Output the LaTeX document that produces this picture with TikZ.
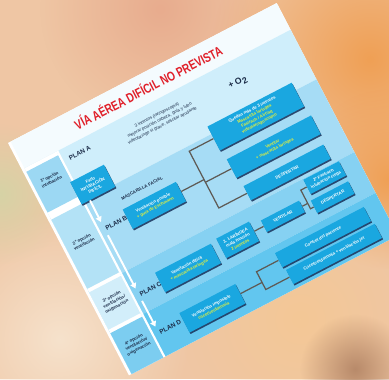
\documentclass[tikz,border=0pt]{standalone}
\usepackage{fontspec}
\setmainfont{Liberation Sans}
\usetikzlibrary{fadings,shadows,arrows.meta,calc}

% fondo de la foto
\definecolor{fondo}{HTML}{EFC6A4}
\definecolor{naranja}{HTML}{F0A055}
\definecolor{rosado}{HTML}{E8AC8E}
\definecolor{crema}{HTML}{F6E2CC}
\definecolor{verdoso}{HTML}{D6D3A6}
\definecolor{melocoton}{HTML}{F4C896}
\definecolor{marron}{HTML}{B88A6A}
% cartel
\definecolor{bandaT}{HTML}{F4FBFE}
\definecolor{bandaA}{HTML}{CFEEFB}
\definecolor{bandaB}{HTML}{A6DCF5}
\definecolor{bandaC}{HTML}{86D1F2}
\definecolor{bandaD}{HTML}{62C6EF}
\definecolor{colA}{HTML}{9CD8F3}
\definecolor{colB}{HTML}{B3E2F6}
\definecolor{colC}{HTML}{D2EEFA}
\definecolor{colD}{HTML}{7CCDF0}
\definecolor{azulcaja}{HTML}{1AA7E0}
\definecolor{sombra}{HTML}{1E3A62}
\definecolor{amarillo}{HTML}{E6F03C}
\definecolor{rojo}{HTML}{E0202A}
\definecolor{tinta}{HTML}{1C2C48}
\definecolor{gris}{HTML}{5E5A55}

\tikzfading[name=mancha, inner color=transparent!0, outer color=transparent!100]

\begin{document}
\begin{tikzpicture}[x=0.02cm,y=0.02cm,
    caja/.style = {fill=azulcaja, text=white, align=center, inner sep=0pt,
                   font=\fontsize{2.4}{3}\selectfont\bfseries, transform shape,
                   drop shadow={shadow xshift=0.6pt, shadow yshift=-0.8pt,
                                fill=sombra, opacity=0.9}},
    rotulo/.style = {text=tinta, align=center, inner sep=0pt,
                     font=\fontsize{2.5}{3.1}\selectfont\bfseries, transform shape},
    plan/.style = {text=tinta, inner sep=0pt, anchor=west,
                   font=\fontsize{3.6}{4}\selectfont\bfseries, transform shape},
    conector/.style = {draw=gris, line width=0.7pt},
    flecha/.style = {draw=white, line width=1.1pt,
                     -{Triangle[length=3pt,width=3.5pt]}}]
    \useasboundingbox (0,0) rectangle (389,379);
    % Fondo borroso
    \begin{scope}
        \clip (0,0) rectangle (389,379);
        \fill[fondo] (0,0) rectangle (389,379);
        \fill[crema, path fading=mancha] (60,40) circle (130);
        \fill[verdoso, path fading=mancha] (0,185) circle (70);
        \fill[rosado, path fading=mancha] (160,370) circle (120);
        \fill[naranja, path fading=mancha] (370,320) circle (160);
        \fill[naranja, path fading=mancha] (389,200) circle (90);
        \fill[melocoton, path fading=mancha] (300,60) circle (120);
        \fill[marron, path fading=mancha] (355,10) circle (55);
    \end{scope}
    % Cartel girado
    \begin{scope}[shift={(8,236)}, rotate=27.5]
        % bandas
        \fill[white] (0,0) rectangle (303,-262);
        \fill[bandaT] (3,0) rectangle (303,-30);
        \fill[bandaA] (3,-30) rectangle (303,-86);
        \fill[bandaB] (3,-86) rectangle (303,-168);
        \fill[bandaC] (3,-168) rectangle (303,-214);
        \fill[bandaD] (3,-214) rectangle (303,-262);
        % columna izquierda
        \fill[white] (3,-30) rectangle (39,-262);
        \fill[colA] (3,-34) rectangle (39,-80);
        \fill[colB] (3,-88) rectangle (39,-166);
        \fill[colC] (3,-170) rectangle (39,-212);
        \fill[colD] (3,-216) rectangle (39,-262);
        \draw[white, line width=1.2pt] (40,-30) -- (40,-262);
        % Titulo
        \node[text=rojo, font=\fontsize{7.5}{8}\selectfont\bfseries, xscale=0.77,
              transform shape] (titulo) at (150,-15) {VÍA AÉREA DIFÍCIL NO PREVISTA};
        % Plan A
        \node[rotulo, font=\fontsize{2.5}{3.4}\selectfont] (intentos) at (145,-50)
            {3 intentos (laringoscopia)\\mejorar posición cabeza, guía y tubo\\videolaringo si grave, solicitar ayudante};
        \node[rotulo, font=\fontsize{5}{6}\selectfont\bfseries] (oxigeno) at (232,-53) {+ O\textsubscript{2}};
        % Columna de opciones
        \node[rotulo] (op1) at (21,-52) {1ª opción\\intubación};
        \node[rotulo] (op2) at (21,-122) {2ª opción\\ventilación};
        \node[rotulo] (op3) at (21,-190) {3ª opción\\ventilación/\\oxigenación};
        \node[rotulo] (op4) at (21,-238) {4ª opción\\ventilación/\\oxigenación};
        % Planes
        \node[plan] (planA) at (47,-42) {PLAN A};
        \node[plan] (planB) at (47,-121) {PLAN B};
        \node[plan] (planC) at (47,-195) {PLAN C};
        \node[plan] (planD) at (47,-238) {PLAN D};
        % Cajas
        \node[caja, minimum width=0.76cm, minimum height=0.5cm] (fallo) at (56,-76)
            {Fallo\\INTUBACIÓN\\DIFÍCIL};
        \node[rotulo] (mascarilla) at (98,-102) {MASCARILLA FACIAL};
        \node[caja, minimum width=1.2cm, minimum height=0.44cm] (posible) at (101,-123)
            {Ventilación posible\\\textcolor{amarillo}{+ guía de Eschmann}};
        \node[caja, minimum width=1.9cm, minimum height=0.54cm] (quedan) at (232,-91)
            {Quedan más de 3 intentos\\\textcolor{amarillo}{Mascarilla laríngea}\\\textcolor{amarillo}{Fastrach / Airtraq}\\\textcolor{amarillo}{videolaringoscopio}};
        \node[caja, minimum width=1.9cm, minimum height=0.42cm] (ventila) at (234,-126)
            {\textcolor{amarillo}{Ventilar}\\\textcolor{amarillo}{+ mascarilla laríngea}};
        \node[caja, minimum width=1.8cm, minimum height=0.32cm] (despierta) at (234,-155)
            {DESPERTAR};
        \node[caja, minimum width=1.26cm, minimum height=0.44cm] (dificil) at (102,-194)
            {Ventilación difícil\\\textcolor{amarillo}{+ mascarilla laríngea}};
        \node[caja, minimum width=0.74cm, minimum height=0.44cm] (laringea) at (159,-192)
            {3. LARÍNGEA\\mala función\\\textcolor{amarillo}{2 intentos}};
        \node[caja, minimum width=0.86cm, minimum height=0.26cm] (ventilar) at (210,-192)
            {VENTILAR};
        \node[caja, minimum width=0.8cm, minimum height=0.32cm] (fastrach) at (265,-177)
            {2ª Fastrach\\intubación ciega};
        \node[caja, minimum width=0.84cm, minimum height=0.28cm] (despertar) at (263,-198)
            {DESPERTAR};
        \node[caja, minimum width=1.26cm, minimum height=0.44cm] (imposible) at (105,-241)
            {Ventilación imposible\\\textcolor{amarillo}{cricotiroidotomía}};
        \node[caja, minimum width=2cm, minimum height=0.32cm] (control) at (236,-229)
            {Control del paciente};
        \node[caja, minimum width=2cm, minimum height=0.32cm] (crico) at (238,-249)
            {Cricotiroidotomía + ventilación jet};
        % Flechas blancas
        \coordinate (salidaA) at ($(fallo.south west)!0.25!(fallo.south east)$);
        \coordinate (llegaB) at (46,-113);
        \coordinate (salidaB) at (46,-128);
        \coordinate (llegaC) at (46,-188);
        \coordinate (salidaC) at (46,-202);
        \coordinate (llegaD) at (46,-231);
        \draw[flecha] (salidaA) -- (llegaB);
        \draw[flecha] (salidaB) -- (llegaC);
        \draw[flecha] (salidaC) -- (llegaD);
        % Conectores
        \draw[conector] (posible.east) -- (157,-123);
        \draw[conector] (quedan.west) -- (157,-91) -- (157,-155) -- (despierta.west);
        \draw[conector] (157,-126) -- (ventila.west);
        \draw[conector] (laringea.east) -- (ventilar.west);
        \draw[conector] (ventilar.east) -- (238,-192);
        \draw[conector] (fastrach.west) -- (238,-177) -- (238,-198) -- (despertar.west);
        \draw[conector] (imposible.east) -- (161,-241);
        \draw[conector] (control.west) -- (161,-229) -- (161,-249) -- (crico.west);
    \end{scope}
\end{tikzpicture}
\end{document}
